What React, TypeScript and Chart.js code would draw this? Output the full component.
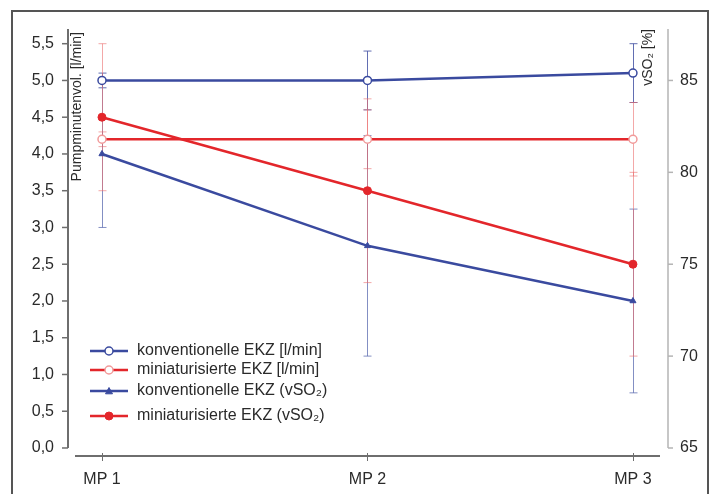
import React, { useEffect, useRef } from "react";
import { Chart, registerables } from "chart.js";

Chart.register(...registerables);

// ---- data ----
const categories = ["MP 1", "MP 2", "MP 3"];
const flowKonv = [5.0, 5.0, 5.1];
const flowKonvErr = [0.1, 0.4, 0.4];
const flowMini = [4.2, 4.2, 4.2];
const flowMiniErr = [0.1, 0.4, 0.5];
const vso2Konv = [81, 76, 73];
const vso2KonvErr = [4, 6, 5];
const vso2Mini = [83, 79, 75];
const vso2MiniErr = [4, 5, 5];
const leftTicks = [0, 0.5, 1, 1.5, 2, 2.5, 3, 3.5, 4, 4.5, 5, 5.5];
const rightTicks = [65, 70, 75, 80, 85];
const seriesLabels = [
  "konventionelle EKZ [l/min]",
  "miniaturisierte EKZ [l/min]",
  "konventionelle EKZ (vSO\u2082)",
  "miniaturisierte EKZ (vSO\u2082)",
];
const leftTitle = "Pumpminutenvol. [l/min]";
const rightTitle = "vSO\u2082 [%]";

const FONT = '"Liberation Sans", Arial, sans-serif';
const BLUE = "#3a4a9f";
const RED = "#e3262b";
const TEXT = "#2a2a2a";

const xs = categories.map((_, i) => i + 1);
const toPts = (vals: number[]) => vals.map((v, i) => ({ x: xs[i], y: v }));

const legendRows = [351, 370, 391, 416];

const decor = {
  id: "decor",
  beforeDatasetsDraw(chart: any) {
    const { ctx, scales } = chart;
    const x = scales.x;
    ctx.save();
    chart.data.datasets.forEach((ds: any) => {
      const ys = scales[ds.yAxisID];
      ctx.strokeStyle = ds.errColor;
      ctx.lineWidth = 1;
      ds.data.forEach((pt: any, j: number) => {
        const e = ds.errors[j];
        const px = Math.round(x.getPixelForValue(pt.x)) + 0.5;
        const t = ys.getPixelForValue(pt.y + e);
        const b = ys.getPixelForValue(pt.y - e);
        ctx.beginPath();
        ctx.moveTo(px, t);
        ctx.lineTo(px, b);
        ctx.moveTo(px - 4, t);
        ctx.lineTo(px + 4, t);
        ctx.moveTo(px - 4, b);
        ctx.lineTo(px + 4, b);
        ctx.stroke();
      });
    });
    ctx.restore();
  },
  afterDraw(chart: any) {
    const { ctx, chartArea: ca, scales } = chart;
    const y = scales.y;
    const y2 = scales.y2;
    const x = scales.x;
    const line = (x1: number, y1: number, x2: number, y2v: number) => {
      ctx.beginPath();
      ctx.moveTo(x1, y1);
      ctx.lineTo(x2, y2v);
      ctx.stroke();
    };
    ctx.save();
    // left axis
    ctx.strokeStyle = "#6e6e6e";
    ctx.lineWidth = 2;
    line(ca.left, ca.top, ca.left, y.getPixelForValue(0));
    ctx.lineWidth = 1.5;
    leftTicks.forEach((v) => {
      const py = y.getPixelForValue(v);
      line(ca.left - 6, py, ca.left, py);
    });
    // right axis
    ctx.strokeStyle = "#b4b4b4";
    ctx.lineWidth = 1.5;
    line(ca.right, ca.top, ca.right, y2.getPixelForValue(65));
    rightTicks.forEach((v) => {
      const py = y2.getPixelForValue(v);
      line(ca.right, py, ca.right + 5, py);
    });
    // x axis
    ctx.strokeStyle = "#6e6e6e";
    ctx.lineWidth = 2;
    line(ca.left + 7, ca.bottom, ca.right - 8, ca.bottom);
    ctx.lineWidth = 1;
    xs.forEach((v) => {
      const px = Math.round(x.getPixelForValue(v)) + 0.5;
      line(px, ca.bottom - 3, px, ca.bottom + 5);
    });

    // axis titles
    ctx.fillStyle = TEXT;
    ctx.font = "14px " + FONT;
    ctx.textBaseline = "middle";
    ctx.textAlign = "right";
    ctx.save();
    ctx.translate(ca.left + 9, ca.top + 3);
    ctx.rotate(-Math.PI / 2);
    ctx.fillText(leftTitle, 0, 0);
    ctx.restore();
    ctx.save();
    ctx.translate(ca.right - 20, ca.top);
    ctx.rotate(-Math.PI / 2);
    ctx.fillText(rightTitle, 0, 0);
    ctx.restore();

    // legend
    chart.data.datasets.forEach((ds: any, i: number) => {
      const ly = legendRows[i];
      ctx.strokeStyle = ds.borderColor;
      ctx.lineWidth = 2.5;
      line(90, ly, 128, ly);
      const cx = 109;
      ctx.fillStyle = ds.pointBackgroundColor;
      ctx.strokeStyle = ds.pointBorderColor;
      ctx.lineWidth = ds.pointBorderWidth;
      ctx.beginPath();
      if (ds.pointStyle === "triangle") {
        const r = ds.pointRadius;
        ctx.moveTo(cx, ly - r);
        ctx.lineTo(cx + r, ly + r * 0.8);
        ctx.lineTo(cx - r, ly + r * 0.8);
        ctx.closePath();
      } else {
        ctx.arc(cx, ly, ds.pointRadius, 0, Math.PI * 2);
      }
      ctx.fill();
      ctx.stroke();
      ctx.fillStyle = TEXT;
      ctx.font = "16px " + FONT;
      ctx.textAlign = "left";
      ctx.textBaseline = "middle";
      ctx.fillText(ds.label, 137, ly);
    });

    // outer frame
    ctx.strokeStyle = "#555";
    ctx.lineWidth = 2;
    ctx.beginPath();
    ctx.moveTo(12, 494);
    ctx.lineTo(12, 11);
    ctx.lineTo(708, 11);
    ctx.lineTo(708, 494);
    ctx.stroke();
    ctx.restore();
  },
};

export default function App() {
  const ref = useRef<HTMLCanvasElement>(null);
  useEffect(() => {
    const canvas = ref.current!;
    const chart = new Chart(canvas, {
      type: "line",
      data: {
        datasets: [
          {
            label: seriesLabels[0],
            data: toPts(flowKonv),
            errors: flowKonvErr,
            errColor: "rgba(70,85,165,0.85)",
            yAxisID: "y",
            borderColor: BLUE,
            borderWidth: 2.5,
            pointStyle: "circle",
            pointRadius: 4,
            pointBackgroundColor: "#fff",
            pointBorderColor: BLUE,
            pointBorderWidth: 1.5,
          },
          {
            label: seriesLabels[1],
            data: toPts(flowMini),
            errors: flowMiniErr,
            errColor: "rgba(235,110,110,0.6)",
            yAxisID: "y",
            borderColor: RED,
            borderWidth: 2.5,
            pointStyle: "circle",
            pointRadius: 4,
            pointBackgroundColor: "#fff",
            pointBorderColor: "#f19a9a",
            pointBorderWidth: 1.5,
          },
          {
            label: seriesLabels[2],
            data: toPts(vso2Konv),
            errors: vso2KonvErr,
            errColor: "rgba(90,105,175,0.75)",
            yAxisID: "y2",
            borderColor: BLUE,
            borderWidth: 2.5,
            pointStyle: "triangle",
            pointRadius: 3.5,
            pointBackgroundColor: BLUE,
            pointBorderColor: BLUE,
            pointBorderWidth: 1,
          },
          {
            label: seriesLabels[3],
            data: toPts(vso2Mini),
            errors: vso2MiniErr,
            errColor: "rgba(235,110,110,0.6)",
            yAxisID: "y2",
            borderColor: RED,
            borderWidth: 2.5,
            pointStyle: "circle",
            pointRadius: 4,
            pointBackgroundColor: RED,
            pointBorderColor: RED,
            pointBorderWidth: 1,
          },
        ] as any,
      },
      options: {
        responsive: false,
        animation: false,
        devicePixelRatio: 1,
        layout: { padding: { top: 29, left: 0, right: 0, bottom: 0 } },
        plugins: { legend: { display: false }, tooltip: { enabled: false } },
        scales: {
          x: {
            type: "linear",
            min: 0.872,
            max: 3.132,
            afterFit: (s: any) => {
              s.height = 38;
            },
            afterBuildTicks: (s: any) => {
              s.ticks = xs.map((v) => ({ value: v }));
            },
            ticks: {
              callback: (v: any) => categories[Number(v) - 1] ?? "",
              font: { size: 16, family: FONT },
              color: TEXT,
              padding: 14,
              maxRotation: 0,
              autoSkip: false,
            },
            grid: { display: false, drawTicks: false },
            border: { display: false },
          },
          y: {
            position: "left",
            min: -0.109,
            max: 5.7,
            afterFit: (s: any) => {
              s.width = 68;
            },
            afterBuildTicks: (s: any) => {
              s.ticks = leftTicks.map((v) => ({ value: v }));
            },
            ticks: {
              callback: (v: any) => Number(v).toFixed(1).replace(".", ","),
              font: { size: 16, family: FONT },
              color: TEXT,
              padding: 14,
              autoSkip: false,
            },
            grid: { display: false, drawTicks: false },
            border: { display: false },
          },
          y2: {
            position: "right",
            min: 64.564,
            max: 87.8,
            afterFit: (s: any) => {
              s.width = 46;
            },
            afterBuildTicks: (s: any) => {
              s.ticks = rightTicks.map((v) => ({ value: v }));
            },
            ticks: {
              font: { size: 16, family: FONT },
              color: TEXT,
              padding: 12,
              autoSkip: false,
            },
            grid: { display: false, drawTicks: false },
            border: { display: false },
          },
        },
      } as any,
      plugins: [decor],
    });
    return () => chart.destroy();
  }, []);
  return (
    <div
      style={{
        position: "fixed",
        left: 0,
        top: 0,
        width: 714,
        height: 494,
        background: "#fff",
      }}
    >
      <canvas ref={ref} width={714} height={494} style={{ display: "block" }} />
    </div>
  );
}
